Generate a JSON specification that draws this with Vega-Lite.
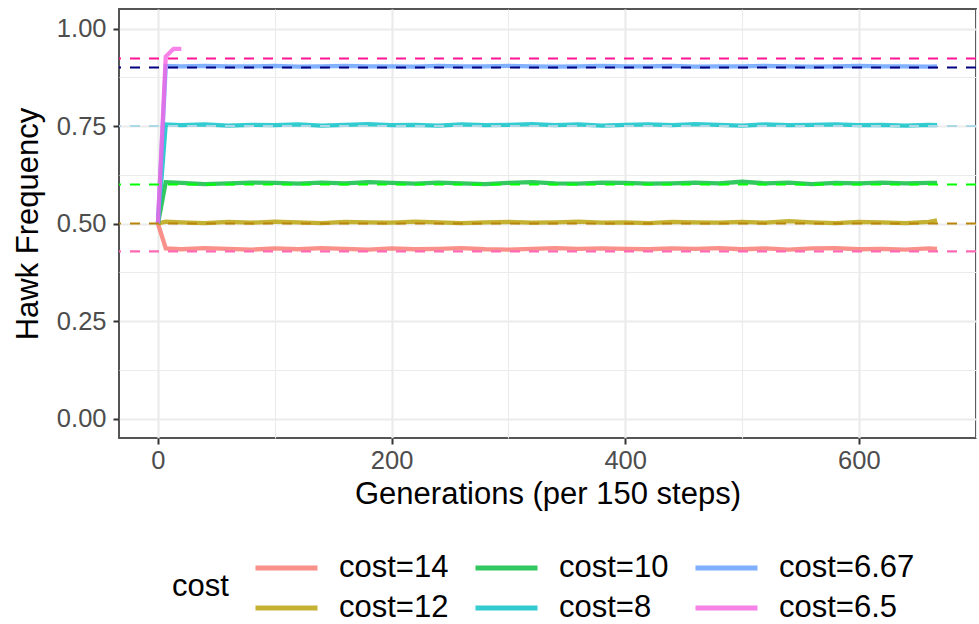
{
  "$schema": "https://vega.github.io/schema/vega-lite/v6.json",
  "width": 857,
  "height": 429,
  "autosize": {"type": "none"},
  "padding": {"left": 119, "top": 9, "right": 3, "bottom": 186},
  "background": "white",
  "config": {
    "font": "Liberation Sans",
    "view": {"stroke": "#555555", "strokeWidth": 2},
    "axis": {
      "domain": false,
      "gridColor": "#EBEBEB",
      "tickColor": "#333333",
      "tickWidth": 2,
      "tickSize": 6,
      "labelColor": "#4D4D4D",
      "labelFontSize": 25.5,
      "titleColor": "#000000",
      "titleFontSize": 31,
      "titleFontWeight": "normal"
    },
    "legend": {
      "labelFontSize": 31,
      "labelColor": "#000000",
      "titleFontSize": 31,
      "titleColor": "#000000",
      "titleFontWeight": "normal"
    }
  },
  "datasets": {
    "sim": [
      {"g":0,"f":0.5,"cost":"cost=14"},{"g":6.67,"f":0.436,"cost":"cost=14"},{"g":20,"f":0.434,"cost":"cost=14"},{"g":40,"f":0.437,"cost":"cost=14"},{"g":60,"f":0.435,"cost":"cost=14"},{"g":80,"f":0.433,"cost":"cost=14"},{"g":100,"f":0.436,"cost":"cost=14"},{"g":120,"f":0.434,"cost":"cost=14"},{"g":140,"f":0.437,"cost":"cost=14"},{"g":160,"f":0.435,"cost":"cost=14"},{"g":180,"f":0.433,"cost":"cost=14"},{"g":200,"f":0.436,"cost":"cost=14"},{"g":220,"f":0.434,"cost":"cost=14"},{"g":240,"f":0.435,"cost":"cost=14"},{"g":260,"f":0.437,"cost":"cost=14"},{"g":280,"f":0.434,"cost":"cost=14"},{"g":300,"f":0.433,"cost":"cost=14"},{"g":320,"f":0.435,"cost":"cost=14"},{"g":340,"f":0.437,"cost":"cost=14"},{"g":360,"f":0.435,"cost":"cost=14"},{"g":380,"f":0.436,"cost":"cost=14"},{"g":400,"f":0.435,"cost":"cost=14"},{"g":420,"f":0.434,"cost":"cost=14"},{"g":440,"f":0.436,"cost":"cost=14"},{"g":460,"f":0.435,"cost":"cost=14"},{"g":480,"f":0.437,"cost":"cost=14"},{"g":500,"f":0.434,"cost":"cost=14"},{"g":520,"f":0.436,"cost":"cost=14"},{"g":540,"f":0.433,"cost":"cost=14"},{"g":560,"f":0.436,"cost":"cost=14"},{"g":580,"f":0.437,"cost":"cost=14"},{"g":600,"f":0.434,"cost":"cost=14"},{"g":620,"f":0.435,"cost":"cost=14"},{"g":640,"f":0.433,"cost":"cost=14"},{"g":660,"f":0.436,"cost":"cost=14"},{"g":667,"f":0.435,"cost":"cost=14"},

      {"g":0,"f":0.5,"cost":"cost=12"},{"g":6.67,"f":0.505,"cost":"cost=12"},{"g":20,"f":0.503,"cost":"cost=12"},{"g":40,"f":0.501,"cost":"cost=12"},{"g":60,"f":0.504,"cost":"cost=12"},{"g":80,"f":0.502,"cost":"cost=12"},{"g":100,"f":0.505,"cost":"cost=12"},{"g":120,"f":0.503,"cost":"cost=12"},{"g":140,"f":0.501,"cost":"cost=12"},{"g":160,"f":0.504,"cost":"cost=12"},{"g":180,"f":0.503,"cost":"cost=12"},{"g":200,"f":0.502,"cost":"cost=12"},{"g":220,"f":0.505,"cost":"cost=12"},{"g":240,"f":0.503,"cost":"cost=12"},{"g":260,"f":0.501,"cost":"cost=12"},{"g":280,"f":0.503,"cost":"cost=12"},{"g":300,"f":0.504,"cost":"cost=12"},{"g":320,"f":0.502,"cost":"cost=12"},{"g":340,"f":0.503,"cost":"cost=12"},{"g":360,"f":0.505,"cost":"cost=12"},{"g":380,"f":0.502,"cost":"cost=12"},{"g":400,"f":0.503,"cost":"cost=12"},{"g":420,"f":0.501,"cost":"cost=12"},{"g":440,"f":0.504,"cost":"cost=12"},{"g":460,"f":0.503,"cost":"cost=12"},{"g":480,"f":0.502,"cost":"cost=12"},{"g":500,"f":0.504,"cost":"cost=12"},{"g":520,"f":0.502,"cost":"cost=12"},{"g":540,"f":0.506,"cost":"cost=12"},{"g":560,"f":0.503,"cost":"cost=12"},{"g":580,"f":0.501,"cost":"cost=12"},{"g":600,"f":0.504,"cost":"cost=12"},{"g":620,"f":0.503,"cost":"cost=12"},{"g":640,"f":0.501,"cost":"cost=12"},{"g":660,"f":0.504,"cost":"cost=12"},{"g":667,"f":0.508,"cost":"cost=12"},

      {"g":0,"f":0.5,"cost":"cost=10"},{"g":6.67,"f":0.606,"cost":"cost=10"},{"g":20,"f":0.604,"cost":"cost=10"},{"g":40,"f":0.601,"cost":"cost=10"},{"g":60,"f":0.603,"cost":"cost=10"},{"g":80,"f":0.605,"cost":"cost=10"},{"g":100,"f":0.604,"cost":"cost=10"},{"g":120,"f":0.602,"cost":"cost=10"},{"g":140,"f":0.605,"cost":"cost=10"},{"g":160,"f":0.603,"cost":"cost=10"},{"g":180,"f":0.606,"cost":"cost=10"},{"g":200,"f":0.604,"cost":"cost=10"},{"g":220,"f":0.602,"cost":"cost=10"},{"g":240,"f":0.605,"cost":"cost=10"},{"g":260,"f":0.603,"cost":"cost=10"},{"g":280,"f":0.601,"cost":"cost=10"},{"g":300,"f":0.604,"cost":"cost=10"},{"g":320,"f":0.606,"cost":"cost=10"},{"g":340,"f":0.603,"cost":"cost=10"},{"g":360,"f":0.602,"cost":"cost=10"},{"g":380,"f":0.605,"cost":"cost=10"},{"g":400,"f":0.604,"cost":"cost=10"},{"g":420,"f":0.602,"cost":"cost=10"},{"g":440,"f":0.603,"cost":"cost=10"},{"g":460,"f":0.605,"cost":"cost=10"},{"g":480,"f":0.603,"cost":"cost=10"},{"g":500,"f":0.607,"cost":"cost=10"},{"g":520,"f":0.603,"cost":"cost=10"},{"g":540,"f":0.605,"cost":"cost=10"},{"g":560,"f":0.601,"cost":"cost=10"},{"g":580,"f":0.604,"cost":"cost=10"},{"g":600,"f":0.603,"cost":"cost=10"},{"g":620,"f":0.605,"cost":"cost=10"},{"g":640,"f":0.603,"cost":"cost=10"},{"g":660,"f":0.604,"cost":"cost=10"},{"g":667,"f":0.604,"cost":"cost=10"},

      {"g":0,"f":0.5,"cost":"cost=8"},{"g":6.67,"f":0.754,"cost":"cost=8"},{"g":20,"f":0.752,"cost":"cost=8"},{"g":40,"f":0.754,"cost":"cost=8"},{"g":60,"f":0.751,"cost":"cost=8"},{"g":80,"f":0.753,"cost":"cost=8"},{"g":100,"f":0.752,"cost":"cost=8"},{"g":120,"f":0.754,"cost":"cost=8"},{"g":140,"f":0.751,"cost":"cost=8"},{"g":160,"f":0.753,"cost":"cost=8"},{"g":180,"f":0.755,"cost":"cost=8"},{"g":200,"f":0.752,"cost":"cost=8"},{"g":220,"f":0.753,"cost":"cost=8"},{"g":240,"f":0.751,"cost":"cost=8"},{"g":260,"f":0.754,"cost":"cost=8"},{"g":280,"f":0.752,"cost":"cost=8"},{"g":300,"f":0.753,"cost":"cost=8"},{"g":320,"f":0.755,"cost":"cost=8"},{"g":340,"f":0.752,"cost":"cost=8"},{"g":360,"f":0.754,"cost":"cost=8"},{"g":380,"f":0.751,"cost":"cost=8"},{"g":400,"f":0.753,"cost":"cost=8"},{"g":420,"f":0.754,"cost":"cost=8"},{"g":440,"f":0.752,"cost":"cost=8"},{"g":460,"f":0.755,"cost":"cost=8"},{"g":480,"f":0.753,"cost":"cost=8"},{"g":500,"f":0.751,"cost":"cost=8"},{"g":520,"f":0.754,"cost":"cost=8"},{"g":540,"f":0.752,"cost":"cost=8"},{"g":560,"f":0.753,"cost":"cost=8"},{"g":580,"f":0.754,"cost":"cost=8"},{"g":600,"f":0.752,"cost":"cost=8"},{"g":620,"f":0.753,"cost":"cost=8"},{"g":640,"f":0.751,"cost":"cost=8"},{"g":660,"f":0.753,"cost":"cost=8"},{"g":667,"f":0.752,"cost":"cost=8"},

      {"g":0,"f":0.5,"cost":"cost=6.67"},{"g":6.67,"f":0.904,"cost":"cost=6.67"},{"g":20,"f":0.903,"cost":"cost=6.67"},{"g":40,"f":0.904,"cost":"cost=6.67"},{"g":60,"f":0.903,"cost":"cost=6.67"},{"g":80,"f":0.903,"cost":"cost=6.67"},{"g":100,"f":0.904,"cost":"cost=6.67"},{"g":120,"f":0.902,"cost":"cost=6.67"},{"g":140,"f":0.903,"cost":"cost=6.67"},{"g":160,"f":0.904,"cost":"cost=6.67"},{"g":180,"f":0.903,"cost":"cost=6.67"},{"g":200,"f":0.903,"cost":"cost=6.67"},{"g":220,"f":0.902,"cost":"cost=6.67"},{"g":240,"f":0.904,"cost":"cost=6.67"},{"g":260,"f":0.903,"cost":"cost=6.67"},{"g":280,"f":0.903,"cost":"cost=6.67"},{"g":300,"f":0.904,"cost":"cost=6.67"},{"g":320,"f":0.903,"cost":"cost=6.67"},{"g":340,"f":0.902,"cost":"cost=6.67"},{"g":360,"f":0.903,"cost":"cost=6.67"},{"g":380,"f":0.904,"cost":"cost=6.67"},{"g":400,"f":0.903,"cost":"cost=6.67"},{"g":420,"f":0.903,"cost":"cost=6.67"},{"g":440,"f":0.904,"cost":"cost=6.67"},{"g":460,"f":0.902,"cost":"cost=6.67"},{"g":480,"f":0.903,"cost":"cost=6.67"},{"g":500,"f":0.903,"cost":"cost=6.67"},{"g":520,"f":0.904,"cost":"cost=6.67"},{"g":540,"f":0.903,"cost":"cost=6.67"},{"g":560,"f":0.902,"cost":"cost=6.67"},{"g":580,"f":0.903,"cost":"cost=6.67"},{"g":600,"f":0.904,"cost":"cost=6.67"},{"g":620,"f":0.903,"cost":"cost=6.67"},{"g":640,"f":0.903,"cost":"cost=6.67"},{"g":660,"f":0.902,"cost":"cost=6.67"},{"g":667,"f":0.903,"cost":"cost=6.67"},

      {"g":0,"f":0.5,"cost":"cost=6.5"},{"g":6.67,"f":0.928,"cost":"cost=6.5"},{"g":13.33,"f":0.948,"cost":"cost=6.5"},{"g":20,"f":0.948,"cost":"cost=6.5"}
    ],
    "refs": [
      {"y":0.9231,"ref":"6.5"},
      {"y":0.9,"ref":"6.67"},
      {"y":0.75,"ref":"8"},
      {"y":0.6,"ref":"10"},
      {"y":0.5,"ref":"12"},
      {"y":0.4286,"ref":"14"}
    ]
  },
  "layer": [
    {
      "data": {"name": "sim"},
      "mark": {"type": "line", "strokeWidth": 4.3, "opacity": 0.8},
      "encoding": {
        "x": {
          "field": "g", "type": "quantitative",
          "scale": {"domain": [-33.35, 700.35], "nice": false, "zero": false},
          "axis": {
            "title": "Generations (per 150 steps)",
            "values": [0, 100, 200, 300, 400, 500, 600, 700],
            "labelExpr": "datum.value % 200 === 0 ? datum.label : ''",
            "tickOpacity": {"condition": {"test": "datum.value % 200 === 0", "value": 1}, "value": 0},
            "gridWidth": {"condition": {"test": "datum.value % 200 === 0", "value": 2.2}, "value": 1.1},
            "labelPadding": 4,
            "titlePadding": 6
          }
        },
        "y": {
          "field": "f", "type": "quantitative",
          "scale": {"domain": [-0.05, 1.05], "nice": false, "zero": false},
          "axis": {
            "title": "Hawk Frequency",
            "values": [0, 0.125, 0.25, 0.375, 0.5, 0.625, 0.75, 0.875, 1],
            "format": ".2f",
            "labelExpr": "(datum.value * 4) % 1 === 0 ? datum.label : ''",
            "tickOpacity": {"condition": {"test": "(datum.value * 4) % 1 === 0", "value": 1}, "value": 0},
            "gridWidth": {"condition": {"test": "(datum.value * 4) % 1 === 0", "value": 2.2}, "value": 1.1},
            "labelPadding": 7,
            "titlePadding": 12
          }
        },
        "color": {
          "field": "cost", "type": "nominal",
          "scale": {
            "domain": ["cost=14", "cost=10", "cost=6.67", "cost=12", "cost=8", "cost=6.5"],
            "range": ["#F8766D", "#00BA38", "#619CFF", "#B79F00", "#00BFC4", "#F564E3"]
          },
          "legend": {
            "title": "cost",
            "orient": "none",
            "legendX": 53,
            "legendY": 541,
            "direction": "horizontal",
            "columns": 3,
            "titleOrient": "left",
            "titleAnchor": "middle",
            "titleBaseline": "middle",
            "titlePadding": 24,
            "symbolType": "M-1,0H3",
            "symbolSize": 961,
            "symbolStrokeWidth": 5,
            "symbolOpacity": 0.8,
            "labelOffset": 50,
            "columnPadding": 16,
            "rowPadding": 7
          }
        }
      }
    },
    {
      "data": {"name": "refs"},
      "mark": {"type": "rule", "strokeWidth": 2.2, "strokeDash": [10, 9]},
      "encoding": {
        "y": {"field": "y", "type": "quantitative"},
        "stroke": {
          "field": "ref", "type": "nominal",
          "scale": {
            "domain": ["6.5", "6.67", "8", "10", "12", "14"],
            "range": ["#FF1493", "#000080", "#ADD8E6", "#00FF00", "#B8860B", "#FF69B4"]
          },
          "legend": null
        }
      }
    }
  ]
}
